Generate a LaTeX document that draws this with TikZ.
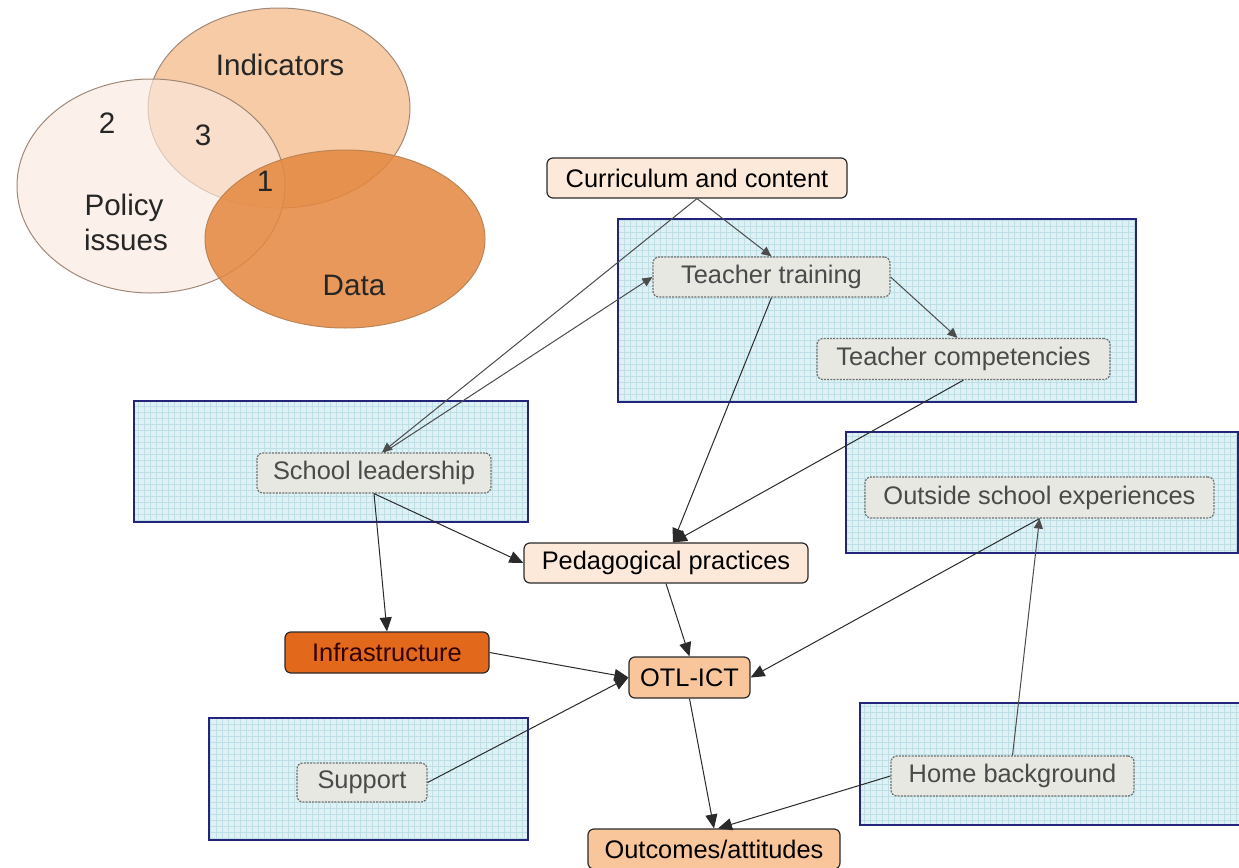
\documentclass[tikz,border=0pt]{standalone}
\usepackage{fontspec}
\setmainfont{Liberation Sans}
\usetikzlibrary{arrows.meta,patterns}
\definecolor{peach}{HTML}{FDE9DA}
\definecolor{otlc}{HTML}{F9C59B}
\definecolor{infc}{HTML}{E2691B}
\definecolor{greyfill}{HTML}{E7E8E2}
\definecolor{greydraw}{HTML}{707070}
\definecolor{greytext}{HTML}{4A4A4A}
\definecolor{navy}{HTML}{24247A}
\definecolor{gfill}{HTML}{DFF1F5}
\definecolor{gline}{HTML}{BFDFE6}
\definecolor{edgec}{HTML}{2A2A2A}
\definecolor{indc}{HTML}{F7CBA5}
\definecolor{polc}{HTML}{FBEBE0}
\definecolor{datc}{HTML}{E5873F}
\definecolor{vennline}{HTML}{A08878}
\begin{document}
\begin{tikzpicture}[x=0.5pt,y=-0.5pt,
  box/.style={rectangle, rounded corners=3pt, draw=edgec, line width=0.6pt, inner sep=0pt,
    font=\fontsize{12.7}{15}\selectfont, text=black},
  peachbox/.style={box, fill=peach},
  otlbox/.style={box, fill=otlc},
  infbox/.style={box, fill=infc, text={black!80!red}},
  greybox/.style={box, fill=greyfill, draw=greydraw, dash pattern=on 1pt off 0.6pt, text=greytext},
  group/.style={preaction={fill=gfill}, pattern=grid, pattern color=gline, draw=navy, line width=1pt},
  blk/.style={draw=edgec, line width=0.5pt, -{Triangle[length=7pt,width=6pt]}},
  gry/.style={draw=black!70, line width=0.5pt, -{Triangle[length=5pt,width=4.5pt]}},
  venntext/.style={font=\fontsize{14.8}{17}\selectfont, anchor=base, inner sep=0pt, text=black!85}
]
\clip (0,0) rectangle (1239,868);
\fill[white] (0,0) rectangle (1239,868);

% Venn diagram
\draw[fill=indc, draw=vennline, line width=0.5pt] (279,108) ellipse [x radius=131, y radius=100];
\draw[fill=polc, fill opacity=0.65, draw=vennline, line width=0.5pt] (151,186) ellipse [x radius=134, y radius=107];
\draw[fill=datc, fill opacity=0.85, draw=vennline!70!orange, line width=0.5pt] (345,239) ellipse [x radius=140, y radius=89];
\node[venntext] (vind) at (280,75) {Indicators};
\node[venntext] (v2) at (107,133) {2};
\node[venntext] (v3) at (203,145) {3};
\node[venntext] (v1) at (265,191) {1};
\node[venntext] (vpol) at (124,215) {Policy};
\node[venntext] (viss) at (126,250) {issues};
\node[venntext] (vdat) at (354,295) {Data};

% group boxes
\draw[group] (618,219) rectangle (1136,402);
\draw[group] (134,401) rectangle (528,522);
\draw[group] (846,432) rectangle (1238,553);
\draw[group] (209,718) rectangle (528,840);
\draw[group] (860,703) rectangle (1250,825);

% nodes
\node[peachbox, minimum width=150pt, minimum height=20pt] (cur) at (697,178) {Curriculum and content};
\node[greybox, minimum width=118.5pt, minimum height=20pt] (tt) at (771.5,277) {Teacher training};
\node[greybox, minimum width=146.5pt, minimum height=20.5pt] (tc) at (963.5,359) {Teacher competencies};
\node[greybox, minimum width=117pt, minimum height=20pt] (sl) at (374,473) {School leadership};
\node[greybox, minimum width=174.5pt, minimum height=20.5pt] (os) at (1039.5,497.5) {Outside school experiences};
\node[peachbox, minimum width=142pt, minimum height=20pt] (pp) at (666,563) {Pedagogical practices};
\node[infbox, minimum width=102pt, minimum height=20.5pt] (inf) at (387,652.5) {Infrastructure};
\node[otlbox, minimum width=60.5pt, minimum height=20.5pt] (otl) at (689.5,677.5) {OTL-ICT};
\node[greybox, minimum width=65pt, minimum height=19.5pt] (sup) at (362,782.5) {Support};
\node[greybox, minimum width=121.5pt, minimum height=20pt] (hb) at (1012.5,776) {Home background};
\node[otlbox, minimum width=126pt, minimum height=20pt] (out) at (714,849) {Outcomes/attitudes};

% connectors
\draw[gry] (cur.south) -- ([xshift=4pt]sl.north);
\draw[gry] (cur.south) -- (tt.north);
\draw[gry] ([xshift=5pt]sl.north) -- (tt.west);
\draw[gry] (tt.east) -- ([xshift=-3pt]tc.north);
\draw[blk] (tt.south) -- ([xshift=3.5pt]pp.north);
\draw[blk] (tc.south) -- ([xshift=3.5pt]pp.north);
\draw[blk] (sl.south) -- (pp.west);
\draw[blk] (sl.south) -- (inf.north);
\draw[blk] (pp.south) -- (otl.north);
\draw[blk] (inf.east) -- (otl.west);
\draw[blk] (sup.east) -- (otl.west);
\draw[blk] (os.south) -- (otl.east);
\draw[gry] (hb.north) -- (os.south);
\draw[blk] (otl.south) -- (out.north);
\draw[blk] (hb.west) -- ([xshift=2pt]out.north);
\end{tikzpicture}
\end{document}
